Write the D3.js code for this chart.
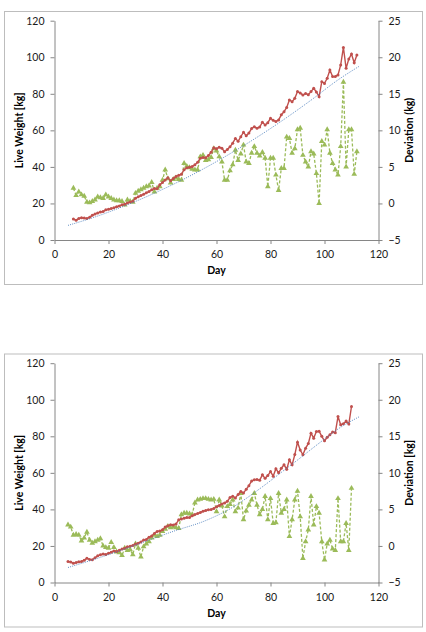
<!DOCTYPE html>
<html>
<head>
<meta charset="utf-8">
<script src="https://cdn.jsdelivr.net/npm/d3@7"></script>
<style>
  body { margin: 0; background: #fff; }
  text { font-family: Lato, "Open Sans", sans-serif; }
</style>
</head>
<body>
<svg id="svg" width="426" height="632"></svg>
<script>
// ---- chart 1 data ----
const days1 = d3.range(7, 113);
const weight1 = [
  11.5, 10.8, 11.8, 12.2, 12.0, 11.8, 12.4, 13.5, 14.2, 14.8,
  15.3, 15.6, 16.5, 16.8, 17.2, 17.6, 18.2, 18.6, 19.3, 19.6,
  20.2, 20.8, 21.2, 22.8, 23.6, 24.3, 25.0, 25.8, 26.5, 27.5,
  28.2, 28.0, 30.2, 31.5, 32.8, 34.0, 32.4, 33.6, 34.8, 35.4,
  36.0, 38.5, 39.5, 39.8, 40.2, 41.2, 42.5, 44.8, 45.2, 45.0,
  46.2, 48.0, 50.5, 50.0, 50.8, 50.2, 48.3, 49.5, 51.0, 53.0,
  55.6, 54.0, 56.5, 59.0, 57.0, 58.5, 61.0, 62.0, 61.2, 61.8,
  64.5, 62.9, 64.2, 66.6, 65.5, 64.8, 65.7, 68.5, 70.2, 72.5,
  76.6, 75.7, 77.5, 81.2, 80.5, 79.3, 80.2, 79.5, 81.2, 83.0,
  81.0, 78.4, 86.6, 85.7, 88.5, 93.0, 89.4, 89.5, 90.3, 95.8,
  105.4, 94.0, 99.0, 101.8, 97.0, 101.2
];
const deviation1 = [
  2.1, 1.1, 1.6, 1.2, 1.0, 0.2, 0.1, 0.3, 0.5, 0.9,
  0.8, 0.7, 1.2, 0.9, 0.7, 0.5, 0.4, 0.4, 0.3, -0.2,
  0.5, 0.3, 0.2, 1.4, 1.7, 1.9, 2.1, 2.3, 2.4, 2.9,
  1.6, 2.1, 2.3, 3.2, 4.6, 3.4, 2.8, 3.3, 3.5, 3.3,
  3.2, 5.5, 5.1, 4.9, 4.7, 4.6, 4.6, 6.4, 6.6, 5.9,
  6.0, 6.3, 7.5, 7.2, 6.4, 5.7, 3.2, 3.2, 4.5, 5.3,
  7.3, 5.9, 6.8, 8.0, 5.7, 5.5, 6.9, 7.8, 6.9, 6.5,
  7.0, 6.2, 2.3, 6.2, 6.2, 3.9, 1.8, 4.8, 4.8, 9.1,
  8.9, 6.9, 7.5, 10.1, 10.3, 6.6, 5.7, 5.0, 7.1, 6.8,
  4.1, 0.0, 8.5, 8.0, 10.1, 6.9, 5.5, 4.6, 3.9, 7.8,
  16.6, 5.0, 10.1, 10.1, 4.0, 7.1
];
const trendDays1 = [5, 15, 25, 35, 45, 55, 65, 75, 85, 95, 105, 113];
const trend1 = [8.0, 12.6, 18.1, 24.3, 31.2, 38.8, 47.2, 56.2, 66.0, 76.5, 87.6, 95.2];

// ---- chart 2 data ----
const days2 = d3.range(5, 111);
const weight2 = [
  11.5, 11.2, 10.6, 10.9, 11.3, 11.5, 12.2, 13.3, 12.6, 12.4,
  13.5, 14.6, 15.2, 15.6, 15.3, 16.0, 16.6, 17.2, 17.0, 17.6,
  18.3, 18.8, 19.5, 19.8, 20.3, 21.0, 21.5, 22.2, 23.2, 23.5,
  24.8, 25.5, 26.8, 27.9, 28.2, 28.8, 30.4, 31.0, 31.6, 31.5,
  32.0, 34.3, 34.8, 35.2, 35.6, 35.5, 36.5, 37.2, 37.8, 38.3,
  39.0, 39.4, 39.8, 40.0, 40.5, 41.5, 42.2, 43.0, 43.5, 44.4,
  46.5, 47.2, 46.3, 48.2, 49.8, 49.0, 51.0, 53.0, 55.5, 56.2,
  56.4, 56.0, 58.9, 57.0, 58.5, 60.7, 58.2, 62.3, 60.0, 62.5,
  64.4, 62.0, 67.1, 64.4, 70.0, 76.8, 72.5, 69.9, 73.5, 76.0,
  81.7, 79.0, 82.6, 82.8, 80.0, 77.5, 79.5, 80.8, 82.3, 82.0,
  90.8, 86.3, 86.8, 88.4, 86.7, 96.3
];
const deviation2 = [
  2.9, 2.6, 1.5, 1.6, 1.5, 0.7, 1.1, 1.9, 0.8, 0.4,
  0.6, 0.8, 1.0, 0.0, -0.2, -0.3, 0.5, -0.2, -0.8, -0.9,
  -1.3, -0.3, -0.6, -0.5, -1.2, 0.3, -0.3, -1.5, -0.1, 0.3,
  0.6, 1.1, 1.5, 1.3, 1.5, 2.0, 2.3, 2.7, 2.5, 2.6,
  2.5, 2.4, 4.3, 4.5, 4.5, 4.4, 4.3, 5.9, 6.3, 6.4,
  6.5, 6.5, 6.4, 6.3, 6.4, 4.7, 6.3, 5.5, 4.0, 5.4,
  5.7, 6.3, 4.7, 5.2, 7.2, 3.6, 4.8, 5.6, 6.3, 7.2,
  5.6, 4.3, 5.0, 6.8, 3.6, 6.5, 3.1, 3.2, 7.2, 4.5,
  5.0, 6.3, 1.3, 3.6, 6.3, 7.5, 4.0, -1.7, 0.6, 2.2,
  6.8, 2.9, 5.4, 4.5, 0.6, -1.9, 0.3, 0.8, -0.4, -0.6,
  6.5, 0.6, 0.6, 3.1, -0.6, 7.9
];
const trendDays2 = [5, 15, 25, 35, 45, 55, 60, 65, 70, 75, 80, 85, 90, 95, 100, 105, 113];
const trend2 = [8.2, 12.8, 17.8, 23.2, 28.5, 33.3, 36.5, 40.3, 45.0, 50.2, 55.7, 61.4, 67.0, 72.8, 78.5, 84.0, 90.8];

// ---- shared ticks ----
const xTicks = [0, 20, 40, 60, 80, 100, 120];
const weightTicks = [0, 20, 40, 60, 80, 100, 120];
const devTicks = [-5, 0, 5, 10, 15, 20, 25];

const svg = d3.select("#svg");

const RED = "#c0504d";
const GREEN = "#9bbb59";
const BLUE = "#4f81bd";
const AXIS = "#868686";

function buildChart(top, days, weight, deviation, trendDays, trend, rightTitle) {
  const g = svg.append("g");

  g.append("rect")
    .attr("x", 4.5).attr("y", top + 0.5)
    .attr("width", 418).attr("height", 273)
    .attr("fill", "#fff").attr("stroke", "#bdbdbd");

  const x = d3.scaleLinear().domain([0, 120]).range([54.5, 378.5]);
  const yL = d3.scaleLinear().domain([0, 120]).range([top + 229, top + 9.7]);
  const yR = d3.scaleLinear().domain([-5, 25]).range([top + 229, top + 9.7]);

  const styleAxis = (sel) => {
    sel.selectAll("path, line").attr("stroke", AXIS);
    sel.selectAll("text").attr("fill", "#1a1a1a").attr("font-size", 10.5);
  };

  g.append("g")
    .attr("transform", `translate(${x(0)},0)`)
    .call(d3.axisLeft(yL).tickValues(weightTicks).tickSize(4).tickSizeOuter(0).tickPadding(6))
    .call(styleAxis);

  g.append("g")
    .attr("transform", `translate(${x(120)},0)`)
    .call(d3.axisRight(yR).tickValues(devTicks).tickSize(4).tickSizeOuter(0).tickPadding(6))
    .call(styleAxis);

  g.append("g")
    .attr("transform", `translate(0,${yL(0)})`)
    .call(d3.axisBottom(x).tickValues(xTicks).tickSize(4).tickSizeOuter(0).tickPadding(7))
    .call(styleAxis);

  // axis titles
  g.append("text")
    .attr("x", x(60)).attr("y", top + 263)
    .attr("text-anchor", "middle").attr("font-weight", "bold").attr("font-size", 10.5)
    .text("Day");
  g.append("text")
    .attr("transform", `translate(20,${(yL(0) + yL(120)) / 2}) rotate(-90)`)
    .attr("text-anchor", "middle").attr("dominant-baseline", "middle")
    .attr("font-weight", "bold").attr("font-size", 10.5)
    .text("Live Weight [kg]");
  g.append("text")
    .attr("transform", `translate(410,${(yL(0) + yL(120)) / 2}) rotate(-90)`)
    .attr("text-anchor", "middle").attr("dominant-baseline", "middle")
    .attr("font-weight", "bold").attr("font-size", 10.5)
    .text(rightTitle);

  // deviation (green, dashed, triangles)
  const devData = days.map((d, i) => ({ day: d, v: deviation[i] }));
  g.append("path")
    .datum(devData)
    .attr("fill", "none").attr("stroke", GREEN).attr("stroke-width", 1.3)
    .attr("stroke-dasharray", "3,2")
    .attr("d", d3.line().x((d) => x(d.day)).y((d) => yR(d.v)));
  g.selectAll(".tri")
    .data(devData)
    .join("path")
    .attr("class", "tri")
    .attr("transform", (d) => `translate(${x(d.day)},${yR(d.v)})`)
    .attr("d", d3.symbol(d3.symbolTriangle, 14))
    .attr("fill", GREEN);

  // live weight (red, dots)
  const wData = days.map((d, i) => ({ day: d, v: weight[i] }));
  g.append("path")
    .datum(wData)
    .attr("fill", "none").attr("stroke", RED).attr("stroke-width", 1.4)
    .attr("d", d3.line().x((d) => x(d.day)).y((d) => yL(d.v)));
  g.selectAll(".dot")
    .data(wData)
    .join("circle")
    .attr("class", "dot")
    .attr("cx", (d) => x(d.day)).attr("cy", (d) => yL(d.v))
    .attr("r", 1.5)
    .attr("fill", RED);

  // trend (blue dotted)
  const tData = trendDays.map((d, i) => ({ day: d, v: trend[i] }));
  g.append("path")
    .datum(tData)
    .attr("fill", "none").attr("stroke", BLUE).attr("stroke-width", 0.9)
    .attr("stroke-dasharray", "1,1.2")
    .attr("d", d3.line().curve(d3.curveMonotoneX).x((d) => x(d.day)).y((d) => yL(d.v)));
}

buildChart(11, days1, weight1, deviation1, trendDays1, trend1, "Deviation (kg)");
buildChart(353.5, days2, weight2, deviation2, trendDays2, trend2, "Deviation [kg]");
</script>
</body>
</html>
